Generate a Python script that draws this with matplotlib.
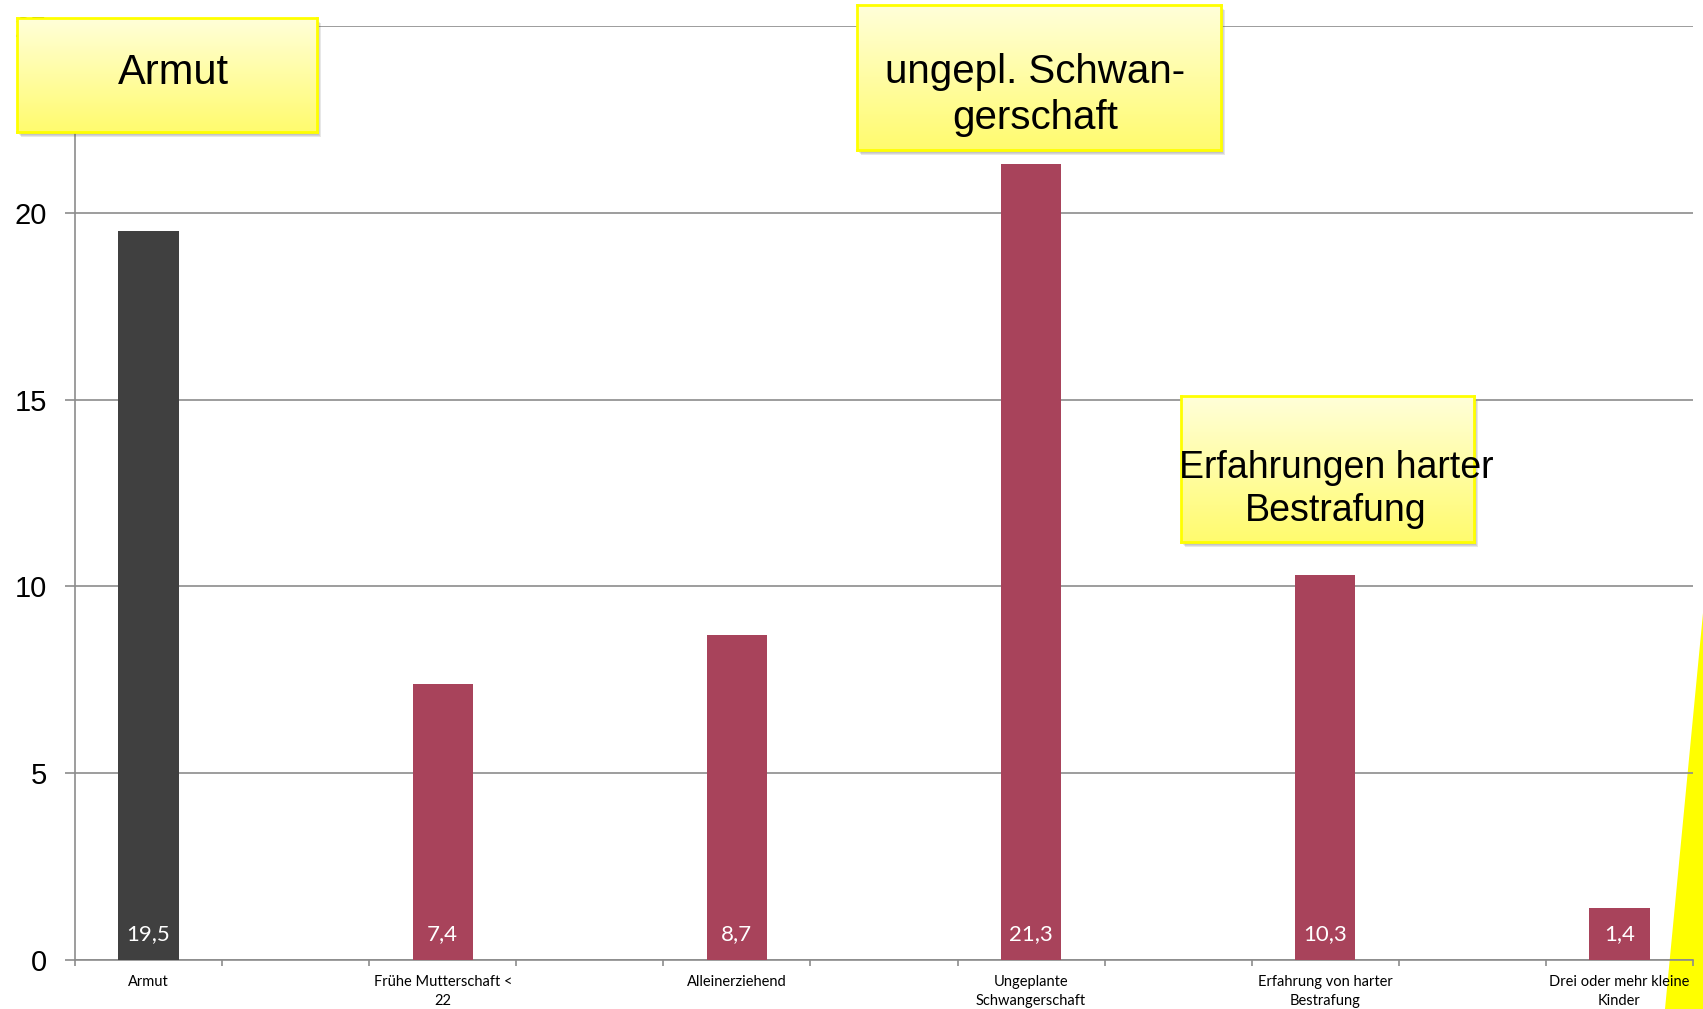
import numpy as np
import matplotlib
matplotlib.use("Agg")
import matplotlib.pyplot as plt
from matplotlib.patches import Rectangle, Polygon
from matplotlib.colors import LinearSegmentedColormap

# Daten
kategorien = ["Armut", "Frühe Mutterschaft <\n22", "Alleinerziehend",
              "Ungeplante\nSchwangerschaft", "Erfahrung von harter\nBestrafung",
              "Drei oder mehr kleine\nKinder"]
werte = [19.5, 7.4, 8.7, 21.3, 10.3, 1.4]
wert_labels = ["19,5", "7,4", "8,7", "21,3", "10,3", "1,4"]
y_ticks = [0, 5, 10, 15, 20, 25]

W, H = 1703, 1009
fig = plt.figure(figsize=(W / 100, H / 100), dpi=100)


def px(x0, y0, x1, y1):
    # Pixelbox (oben links / unten rechts) -> Figure-Koordinaten
    return [x0 / W, 1 - y1 / H, (x1 - x0) / W, (y1 - y0) / H]


# gelber Keil unten rechts (liegt hinter allem)
fig.add_artist(Polygon([(1703 / W, 1 - 613 / H), (1665 / W, 0), (1, 0)],
                       closed=True, facecolor="#FFFF00", edgecolor="none",
                       transform=fig.transFigure, zorder=-1))

ax = fig.add_axes(px(75, 26, 1693, 960))
ax.patch.set_visible(False)

# jeder Balken steht in jedem zweiten Feld
pos = np.arange(len(werte)) * 2
farben = ["#404040"] + ["#A8435B"] * (len(werte) - 1)
ax.bar(pos, werte, width=0.41, color=farben, zorder=3)

for x, lab in zip(pos, wert_labels):
    ax.annotate(lab, (x, 0), xytext=(0, 18.5), textcoords="offset points",
                ha="center", va="center", color="white", fontsize=16,
                fontfamily="Lato", zorder=4)

grau = "#8c8c8c"
ax.set_xlim(-0.5, 2 * len(werte) - 1.5)
ax.set_xticks(np.arange(-0.5, 2 * len(werte) - 1, 1))
ax.set_xticklabels([])
ax.set_xticks(pos, minor=True)
ax.set_xticklabels(kategorien, minor=True, fontfamily="Lato", fontsize=10.5,
                   linespacing=1.4)
ax.tick_params(axis="x", which="major", length=4.5, color=grau, width=1.2)
ax.tick_params(axis="x", which="minor", length=0, pad=11)

ax.set_ylim(0, 25)
ax.set_yticks(y_ticks)
ax.set_yticklabels([str(t) for t in y_ticks], fontfamily="Liberation Sans", fontsize=21)
ax.tick_params(axis="y", length=7, color=grau, width=1.2, pad=13)
ax.yaxis.grid(True, color=grau, linewidth=1.2)
ax.set_axisbelow(True)
for s in ["top", "right"]:
    ax.spines[s].set_visible(False)
for s in ["left", "bottom"]:
    ax.spines[s].set_color(grau)
    ax.spines[s].set_linewidth(1.2)

# gelbe Hinweiskaesten
cmap = LinearSegmentedColormap.from_list("gelb", ["#FFFFDA", "#FFFB6E"])
verlauf = np.linspace(0, 1, 256)[:, None]


def kasten(x0, y0, x1, y1, zeilen, cx, baselines, size):
    for i, a in enumerate([0.12, 0.12, 0.14]):
        d = i + 2
        fig.add_artist(Rectangle(((x0 + d) / W, 1 - (y1 + d + 1) / H),
                                 (x1 - x0) / W, (y1 - y0) / H,
                                 transform=fig.transFigure, facecolor="#555555",
                                 edgecolor="none", alpha=a, zorder=1))
    bax = fig.add_axes(px(x0, y0, x1, y1), zorder=2)
    bax.imshow(verlauf, cmap=cmap, aspect="auto", extent=[0, 1, 0, 1])
    bax.set_xticks([])
    bax.set_yticks([])
    for sp in bax.spines.values():
        sp.set_color("#FFFF00")
        sp.set_linewidth(2)
    for z, b in zip(zeilen, baselines):
        fig.text(cx / W, 1 - b / H, z, ha="center", va="baseline", fontsize=size,
                 fontfamily="Liberation Sans", color="black", zorder=5)


kasten(17, 18, 317, 132, ["Armut"], 173, [84], 30)
kasten(857, 5, 1221, 150, ["ungepl. Schwan-", "gerschaft"], 1035, [83, 129], 29)
kasten(1181, 396, 1474, 542, ["Erfahrungen harter", "Bestrafung"], 1336, [478, 521], 27)

fig.savefig("out.png", dpi=100)
